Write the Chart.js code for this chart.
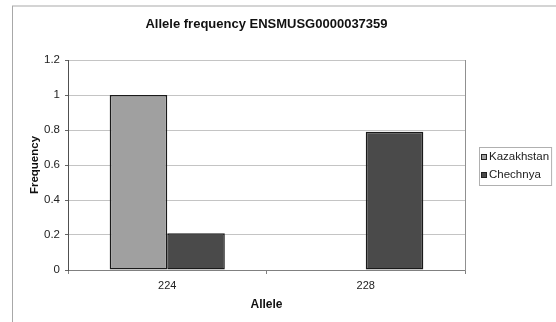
<!DOCTYPE html>
<html>
<head>
<meta charset="utf-8">
<script src="https://cdn.jsdelivr.net/npm/chart.js@4/dist/chart.umd.min.js"></script>
<style>
html,body{margin:0;padding:0;background:#fff;}
canvas{display:block;}
</style>
</head>
<body>
<canvas id="c" width="556" height="322"></canvas>
<script>
const chartTitle = 'Allele frequency ENSMUSG0000037359';
const categories = ['224', '228'];
const seriesNames = ['Kazakhstan', 'Chechnya'];
const kazakhstan = [1, 0];
const chechnya = [0.21, 0.79];
const yTickValues = [0, 0.2, 0.4, 0.6, 0.8, 1, 1.2];
const yTickLabels = ['0', '0.2', '0.4', '0.6', '0.8', '1', '1.2'];
const xAxisTitle = 'Allele';
const yAxisTitle = 'Frequency';

const FONT = '"Liberation Sans", Arial, sans-serif';
const colors = ['#a0a0a0', '#4a4a4a'];

const framePlugin = {
  id: 'frame',
  beforeDraw(chart) {
    const ctx = chart.ctx;
    ctx.save();
    ctx.fillStyle = '#fff';
    ctx.fillRect(0, 0, chart.width, chart.height);
    ctx.strokeStyle = '#d4d4d4';
    ctx.lineWidth = 2;
    ctx.beginPath();
    ctx.moveTo(12, 6);
    ctx.lineTo(chart.width + 2, 6);
    ctx.stroke();
    ctx.strokeStyle = '#a8a8a8';
    ctx.lineWidth = 1;
    ctx.beginPath();
    ctx.moveTo(12.5, 6);
    ctx.lineTo(12.5, chart.height + 2);
    ctx.stroke();
    ctx.restore();
  }
};

const legendPlugin = {
  id: 'boxLegend',
  afterDraw(chart) {
    const ctx = chart.ctx;
    ctx.save();
    ctx.font = '11.5px ' + FONT;
    const ds = chart.data.datasets;
    let maxW = 0;
    ds.forEach(d => { maxW = Math.max(maxW, ctx.measureText(d.label).width); });
    const bx = 479, by = 147, rowH = 18;
    const textX = bx + 10;
    const bw = (textX - bx) + maxW + 2;
    const bh = rowH * ds.length + 2;
    ctx.strokeStyle = '#b0b0b0';
    ctx.lineWidth = 1;
    ctx.strokeRect(bx + 0.5, by + 0.5, bw, bh);
    ds.forEach((d, i) => {
      const cy = by + 10 + i * rowH;
      ctx.fillStyle = d.backgroundColor;
      ctx.fillRect(bx + 2, cy - 3, 6, 6);
      ctx.strokeStyle = '#222';
      ctx.strokeRect(bx + 2.5, cy - 2.5, 5, 5);
      ctx.fillStyle = '#222';
      ctx.textBaseline = 'middle';
      ctx.textAlign = 'left';
      ctx.fillText(d.label, textX, cy);
    });
    ctx.restore();
  }
};

new Chart(document.getElementById('c'), {
  type: 'bar',
  data: {
    labels: categories,
    datasets: [
      { label: seriesNames[0], data: kazakhstan, backgroundColor: colors[0], borderColor: '#1a1a1a', borderWidth: 1.5, borderSkipped: false, categoryPercentage: 0.58, barPercentage: 1.0 },
      { label: seriesNames[1], data: chechnya, backgroundColor: colors[1], borderColor: '#1a1a1a', borderWidth: 1.5, borderSkipped: false, categoryPercentage: 0.58, barPercentage: 1.0 }
    ]
  },
  options: {
    responsive: false,
    animation: false,
    devicePixelRatio: 1,
    layout: { padding: { left: 0, right: 23, top: 0, bottom: 0 } },
    plugins: {
      legend: { display: false },
      tooltip: { enabled: false },
      title: {
        display: true,
        text: chartTitle,
        color: '#111',
        font: { family: FONT, size: 13, weight: 'bold', lineHeight: 1.2 },
        padding: { top: 17, bottom: 27.4 }
      }
    },
    scales: {
      x: {
        offset: true,
        grid: { display: true, offset: true, drawOnChartArea: false, tickLength: 4, color: '#808080' },
        border: { display: true, color: '#808080', width: 1 },
        ticks: { color: '#222', padding: 5, font: { family: FONT, size: 11, lineHeight: 1.2 } },
        title: { display: true, text: xAxisTitle, color: '#111', font: { family: FONT, size: 12, weight: 'bold', lineHeight: 1.2 }, padding: { top: 0, bottom: 10 } },
        afterFit(scale) { scale.height = 52; }
      },
      y: {
        min: 0,
        max: 1.2,
        afterBuildTicks(scale) { scale.ticks = yTickValues.map(v => ({ value: v })); },
        grid: { color: '#c4c4c4', tickLength: 3, tickColor: '#666' },
        border: { display: true, color: '#505050', width: 1 },
        ticks: {
          color: '#222', padding: 5, font: { family: FONT, size: 11.5, lineHeight: 1.2 },
          callback(value) { const i = yTickValues.indexOf(value); return i >= 0 ? yTickLabels[i] : String(value); }
        },
        title: { display: true, text: yAxisTitle, color: '#111', font: { family: FONT, size: 11.5, weight: 'bold', lineHeight: 1.2 }, padding: { top: 28, bottom: 0 } },
        afterFit(scale) { scale.width = 68; }
      },
      y2: {
        position: 'right',
        min: 0,
        max: 1.2,
        grid: { display: false, drawTicks: false },
        border: { display: true, color: '#909090', width: 1 },
        ticks: { display: false },
        afterFit(scale) { scale.width = 68; }
      }
    }
  },
  plugins: [framePlugin, legendPlugin]
});
</script>
</body>
</html>
